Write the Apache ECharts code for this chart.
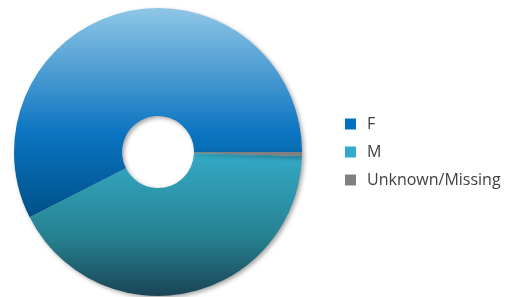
<!DOCTYPE html>
<html>
<head>
    <meta charset="utf-8">
    <title>Gender</title>
    <script type="text/javascript" src="https://cdn.jsdelivr.net/npm/echarts@6/dist/echarts.min.js"></script>
    <style type="text/css">
        html, body { margin: 0; padding: 0; background: #fff; }
        #main { width: 508px; height: 297px; }
    </style>
</head>
<body>
<div id="main"></div>

<script type="text/javascript">
    // data (share in percent)
    var categories = ['F', 'M', 'Unknown/Missing'];
    var shares = [57.5, 42.05, 0.45];
    var legendColors = ['#0070C0', '#33AACC', '#808080'];

    // vertical gradients, in page pixels, so the shading runs top to bottom
    function grad(y1, y2, top, mid, bottom) {
        return new echarts.graphic.LinearGradient(0, y1, 0, y2, [
            { offset: 0, color: top },
            { offset: 0.6, color: mid },
            { offset: 1, color: bottom }
        ], true);
    }
    var sliceColors = [
        grad(8, 218, '#8fc6e6', '#0a74c0', '#005088'),
        grad(152, 296, '#34abc8', '#26808f', '#1a4456'),
        '#808080'
    ];

    var myChart = echarts.init(document.getElementById('main'));

    var pieData = [];
    var legendData = [];
    for (var i = 0; i < categories.length; i++) {
        pieData.push({
            name: categories[i],
            value: shares[i],
            itemStyle: { color: sliceColors[i] }
        });
        legendData.push({
            name: categories[i],
            itemStyle: { color: legendColors[i] }
        });
    }

    var option = {
        animation: false,
        legend: {
            orient: 'vertical',
            left: 345,
            top: 116,
            padding: 0,
            icon: 'rect',
            itemWidth: 11,
            itemHeight: 11,
            itemGap: 12,
            textStyle: {
                fontFamily: 'Open Sans',
                fontSize: 16,
                lineHeight: 16,
                color: '#404040',
                padding: [0, 0, 0, 6]
            },
            data: legendData
        },
        series: [{
            type: 'pie',
            center: [158, 152],
            radius: [36, 144],
            startAngle: 0,
            clockwise: false,
            label: { show: false },
            labelLine: { show: false },
            emphasis: { disabled: true },
            itemStyle: {
                borderWidth: 0,
                shadowBlur: 4,
                shadowOffsetX: 2,
                shadowOffsetY: 2,
                shadowColor: 'rgba(0,0,0,0.35)'
            },
            data: pieData
        }]
    };

    myChart.setOption(option);
</script>
</body>
</html>
